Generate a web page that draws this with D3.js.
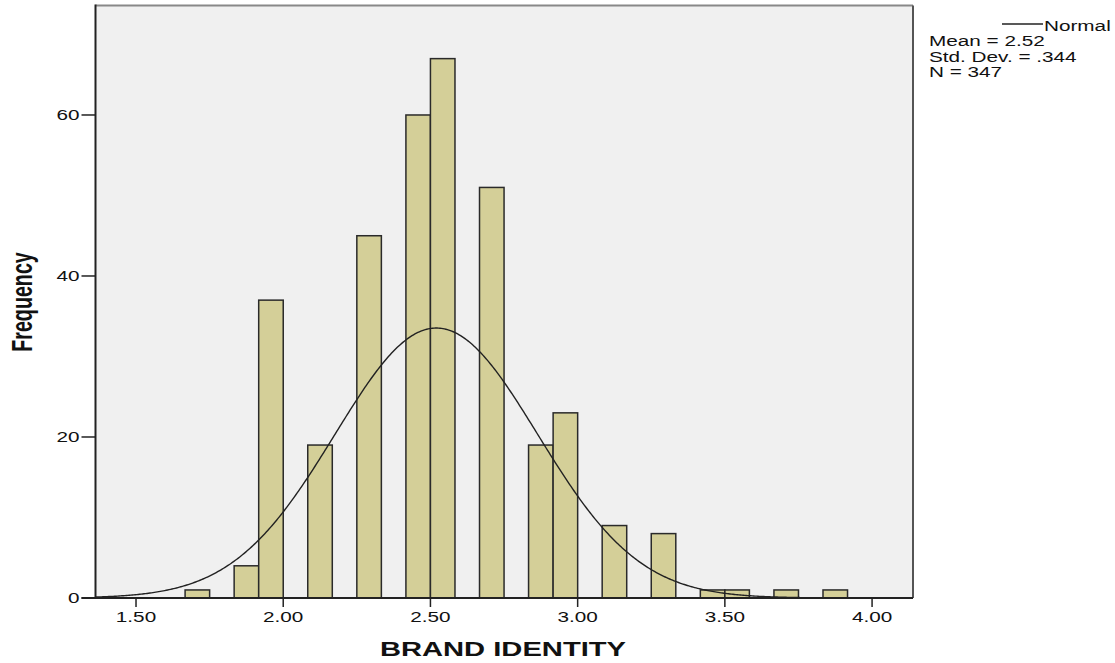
<!DOCTYPE html>
<html>
<head>
<meta charset="utf-8">
<script src="https://cdn.jsdelivr.net/npm/d3@7"></script>
<style>
  body { margin: 0; background: #fff; }
  text { font-family: Arial, "Liberation Sans", sans-serif; fill: #111; }
</style>
</head>
<body>
<div id="chart"></div>
<script>
var width = 1115;
var height = 663;

// bins are 1/12 wide, listed by their lower edge
var binWidth = 1 / 12;
var binStart = [1.6667, 1.8333, 1.9167, 2.0833, 2.25, 2.4167, 2.5, 2.6667,
                2.8333, 2.9167, 3.0833, 3.25, 3.4167, 3.5, 3.6667, 3.8333];
var counts = [1, 4, 37, 19, 45, 60, 67, 51, 19, 23, 9, 8, 1, 1, 1, 1];

var xTicks = [1.5, 2.0, 2.5, 3.0, 3.5, 4.0];
var yTicks = [0, 20, 40, 60];

var mean = 2.52;
var sd = 0.344;
var n = 347;
var legendLines = ["Mean = 2.52", "Std. Dev. = .344", "N = 347"];

// plot box (note: "top" is reserved on window, so use pTop etc)
var pLeft = 95.5, pRight = 913, pTop = 5.5, pBottom = 598;
var sx = 1.48; // the picture is stretched sideways

var x = d3.scaleLinear().domain([1.3624, 4.139]).range([pLeft, pRight]);
var y = d3.scaleLinear().domain([0, 73.6]).range([pBottom, pTop]);

var svg = d3.select("#chart")
    .append("svg")
    .attr("width", width)
    .attr("height", height);

function stext(px, py, txt, anchor, size, weight) {
    return svg.append("text")
        .attr("transform", "translate(" + px + "," + py + ") scale(" + sx + ",1)")
        .attr("text-anchor", anchor)
        .style("font-size", size + "px")
        .style("font-weight", weight || "normal")
        .text(txt);
}

// plot background
svg.append("rect")
    .attr("x", pLeft).attr("y", pTop)
    .attr("width", pRight - pLeft).attr("height", pBottom - pTop)
    .attr("fill", "#f0f0f0");

// bars
svg.selectAll("rect.bar")
    .data(counts)
    .enter()
    .append("rect")
    .attr("class", "bar")
    .attr("x", function(d, i) { return x(binStart[i]); })
    .attr("width", function(d, i) { return x(binStart[i] + binWidth) - x(binStart[i]); })
    .attr("y", function(d) { return y(d); })
    .attr("height", function(d) { return y(0) - y(d); })
    .attr("fill", "#d4cf98")
    .attr("stroke", "#2a2a2a")
    .attr("stroke-width", 1.5);

// normal curve from mean, sd and n
var xs = d3.range(1.3624, 4.139, 0.005);
var curve = xs.map(function(v) {
    var z = (v - mean) / sd;
    return [v, n * binWidth * Math.exp(-0.5 * z * z) / (sd * Math.sqrt(2 * Math.PI))];
});
svg.append("path")
    .datum(curve)
    .attr("fill", "none")
    .attr("stroke", "#222")
    .attr("stroke-width", 1.4)
    .attr("d", d3.line()
        .x(function(d) { return x(d[0]); })
        .y(function(d) { return y(d[1]); }));

// frame
svg.append("line").attr("x1", pLeft).attr("x2", pRight).attr("y1", pTop).attr("y2", pTop)
    .attr("stroke", "#888").attr("stroke-width", 2);
svg.append("line").attr("x1", pRight).attr("x2", pRight).attr("y1", pTop).attr("y2", pBottom)
    .attr("stroke", "#555").attr("stroke-width", 2);
svg.append("line").attr("x1", pLeft).attr("x2", pLeft).attr("y1", pTop - 1).attr("y2", pBottom)
    .attr("stroke", "#222").attr("stroke-width", 2);
svg.append("line").attr("x1", pLeft - 14).attr("x2", pRight).attr("y1", pBottom).attr("y2", pBottom)
    .attr("stroke", "#222").attr("stroke-width", 2);

// y ticks
yTicks.forEach(function(t) {
    svg.append("line")
        .attr("x1", pLeft - 14).attr("x2", pLeft)
        .attr("y1", y(t)).attr("y2", y(t))
        .attr("stroke", "#222").attr("stroke-width", 1.5);
    stext(pLeft - 16, y(t) + 5, d3.format("d")(t), "end", 14);
});

// x ticks
xTicks.forEach(function(t) {
    svg.append("line")
        .attr("x1", x(t)).attr("x2", x(t))
        .attr("y1", pBottom).attr("y2", pBottom + 9)
        .attr("stroke", "#222").attr("stroke-width", 1.5);
    stext(x(t), 622, d3.format(".2f")(t), "middle", 14);
});

// axis titles
stext(503, 656, "BRAND IDENTITY", "middle", 19.7, "bold");
svg.append("text")
    .attr("transform", "translate(32,302) rotate(-90) scale(1," + sx + ")")
    .attr("text-anchor", "middle")
    .style("font-size", "19.7px")
    .style("font-weight", "bold")
    .text("Frequency");

// legend
svg.append("line").attr("x1", 1002).attr("x2", 1043).attr("y1", 24).attr("y2", 24)
    .attr("stroke", "#222").attr("stroke-width", 1.4);
stext(1044, 31, "Normal", "start", 14);
legendLines.forEach(function(s, i) {
    stext(929, 46 + i * 15.5, s, "start", 14);
});
</script>
</body>
</html>
